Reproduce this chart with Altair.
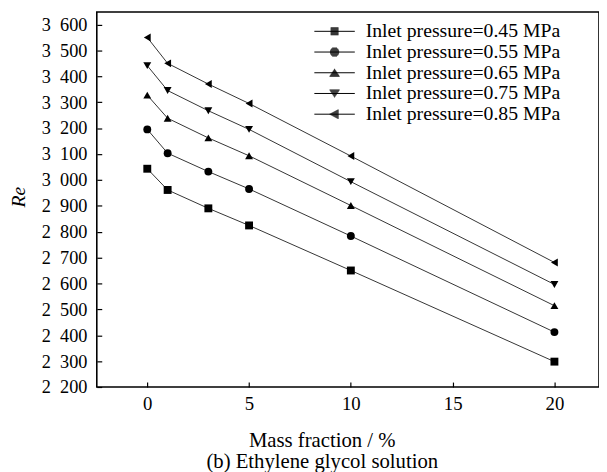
import math
import altair as alt
import pandas as pd

# ---- data ----
mass_fraction = [0, 1, 3, 5, 10, 20]
series_names = [
    "Inlet pressure=0.45 MPa",
    "Inlet pressure=0.55 MPa",
    "Inlet pressure=0.65 MPa",
    "Inlet pressure=0.75 MPa",
    "Inlet pressure=0.85 MPa",
]
re_045 = [3043, 2961, 2890, 2824, 2650, 2298]
re_055 = [3195, 3103, 3032, 2965, 2783, 2412]
re_065 = [3327, 3238, 3162, 3093, 2901, 2514]
re_075 = [3441, 3345, 3267, 3195, 2993, 2596]
re_085 = [3550, 3450, 3370, 3295, 3092, 2681]
y_ticks = [2200, 2300, 2400, 2500, 2600, 2700, 2800, 2900, 3000,
           3100, 3200, 3300, 3400, 3500, 3600]
x_ticks = [0, 5, 10, 15, 20]

x_title = ["Mass fraction / %", "(b) Ethylene glycol solution"]
y_title = "Re"

# ---- styles ----
marker_shapes = ["square", "circle", "triangle-up", "triangle-down", "triangle-left"]
marker_sizes = [64, 64, 90, 90, 90]


# legend symbols: a short line with the marker on it, drawn with strokes only
# (path units: 1 unit = 10 px at symbolSize 400)
def _rows(widths):
    return "".join(f"M{-w:.3f},{p:.2f}H{w:.3f}" for p, w in widths if w > 0)


def _cols(heights):
    return "".join(f"M{p:.2f},{-h:.3f}V{h:.3f}" for p, h in heights if h > 0)


_steps = [i / 10 - 0.35 for i in range(8)]
_steps9 = [i / 10 - 0.4 for i in range(9)]
LINE = "M-2.05,0H2.05"
legend_shapes = [
    LINE + _rows([(p, 0.4) for p in _steps]),
    LINE + _rows([(p, math.sqrt(max(0.0, 0.47 ** 2 - p ** 2))) for p in _steps9]),
    LINE + _rows([(p, 0.56 * (p + 0.42) / 0.84) for p in _steps]),
    LINE + _rows([(p, 0.56 * (0.42 - p) / 0.84) for p in _steps]),
    LINE + _cols([(p - 0.05, 0.48 * (p + 0.5) / 0.9) for p in _steps9]),
]
FONT = "Liberation Serif"
W, H = 509, 380

all_series = [re_045, re_055, re_065, re_075, re_085]
rows = []
for name, vals in zip(series_names, all_series):
    for xv, yv in zip(mass_fraction, vals):
        rows.append({"x": xv, "re": yv, "series": name})
df = pd.DataFrame(rows)

xs = alt.Scale(domain=[-2.48, 22.19], nice=False, zero=False)
ys = alt.Scale(domain=[2200, 3648], nice=False, zero=False)

x_axis = alt.Axis(
    values=x_ticks, ticks=False, tickSize=0, domain=False, grid=False,
    labelPadding=8, labelFont=FONT, labelFontSize=19, labelColor="black",
    title=x_title, titleFont=FONT, titleFontSize=21, titleFontWeight="normal",
    titleColor="black", titleX=228, titleY=43, titleAlign="center",
    titleBaseline="top", titleLineHeight=22,
)
y_axis = alt.Axis(
    values=y_ticks, ticks=False, tickSize=0, domain=False, grid=False,
    labelPadding=10, labelFont=FONT, labelFontSize=18.5, labelColor="black",
    labelExpr="replace(format(datum.value, ','), ',', '\u2002')",
    title=y_title, titleFont=FONT, titleFontSize=20, titleFontStyle="italic",
    titleFontWeight="normal", titleColor="black", titleX=-79, titleY=187,
    titleAlign="center", titleBaseline="middle", titleAngle=270,
)

lines = alt.Chart(df).mark_line(color="black", strokeWidth=0.8).encode(
    x=alt.X("x:Q", scale=xs, axis=x_axis),
    y=alt.Y("re:Q", scale=ys, axis=y_axis),
    detail="series:N",
)
points = alt.Chart(df).mark_point(filled=True, color="black", opacity=1).encode(
    x=alt.X("x:Q", scale=xs, axis=x_axis),
    y=alt.Y("re:Q", scale=ys, axis=y_axis),
    shape=alt.Shape("series:N", scale=alt.Scale(domain=series_names, range=marker_shapes), legend=None),
    size=alt.Size("series:N", scale=alt.Scale(domain=series_names, range=marker_sizes), legend=None),
)
main = alt.layer(lines, points)

ghost = alt.Chart(df).mark_point(
    filled=False, color="black", strokeWidth=1, opacity=0
).encode(
    x=alt.X("x:Q", scale=xs, axis=alt.Axis(
        orient="top", offset=-H, values=x_ticks, labels=False, domain=False,
        ticks=True, tickSize=5, tickColor="black", tickWidth=1.2, grid=False, title=None)),
    y=alt.Y("re:Q", scale=ys, axis=alt.Axis(
        orient="right", offset=-W, values=y_ticks, labels=False, domain=False,
        ticks=True, tickSize=5, tickColor="black", tickWidth=1.2, grid=False, title=None)),
    shape=alt.Shape("series:N", scale=alt.Scale(domain=series_names, range=legend_shapes),
                    legend=alt.Legend(
                        orient="none", legendX=220, legendY=9, title=None,
                        symbolSize=400, symbolOffset=10.5,
                        symbolStrokeColor="black", symbolStrokeWidth=1, symbolOpacity=1,
                        labelFont=FONT, labelFontSize=20, labelColor="black",
                        labelOffset=21, rowPadding=0, padding=0, labelLimit=0)),
)

chart = alt.layer(main, ghost).resolve_scale(
    x="independent", y="independent", shape="independent"
).properties(
    width=W, height=H,
    autosize=alt.AutoSizeParams(type="none"),
    padding={"left": 90, "top": 1, "right": 0, "bottom": 83},
    background="white",
).configure(
    font=FONT,
    style={"guide-label": {"font": FONT}, "guide-title": {"font": FONT}},
).configure_axis(labelFont=FONT, titleFont=FONT).configure_legend(
    labelFont=FONT
).configure_view(stroke="black", strokeWidth=1.6)

chart.save("out.html", embed_options={"renderer": "svg", "actions": False})
